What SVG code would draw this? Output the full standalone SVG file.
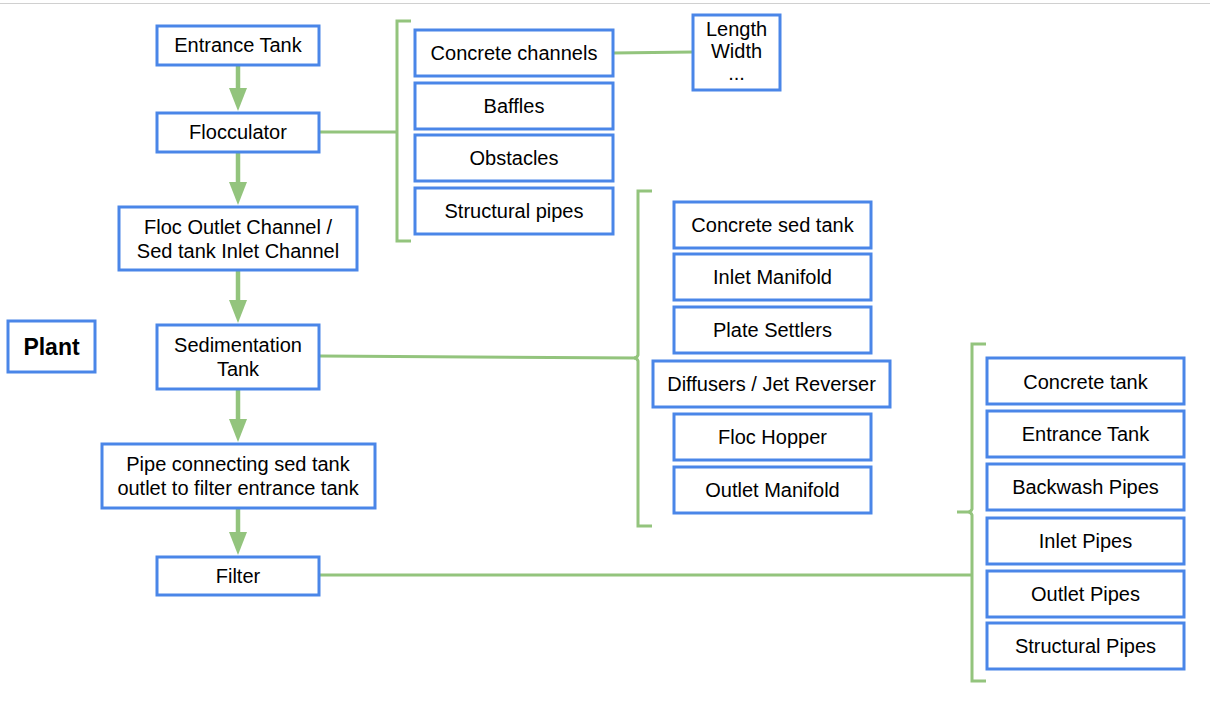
<svg xmlns="http://www.w3.org/2000/svg" width="1210" height="701" viewBox="0 0 1210 701">
<style>
.box{fill:#fff;stroke:#4a86e8;stroke-width:3}
.t{font-family:"Liberation Sans",Arial,sans-serif;font-size:20px;fill:#000;text-anchor:middle}
.tb{font-family:"Liberation Sans",Arial,sans-serif;font-size:23px;font-weight:bold;fill:#000;text-anchor:middle}
.ln{fill:none;stroke:#93c47d;stroke-width:3}
.ar{fill:none;stroke:#93c47d;stroke-width:4.5}
.ah{fill:#93c47d}
</style>
<rect width="1210" height="701" fill="#fff"/>
<line x1="0" y1="3.5" x2="1210" y2="3.5" stroke="#d0d0d0" stroke-width="1"/>
<g id="connectors">
<line class="ar" x1="238" y1="65" x2="238" y2="90"/><polygon class="ah" points="229,88 247,88 238,111"/>
<line class="ar" x1="238" y1="152" x2="238" y2="184"/><polygon class="ah" points="229,182 247,182 238,205"/>
<line class="ar" x1="238" y1="270" x2="238" y2="302"/><polygon class="ah" points="229,300 247,300 238,323"/>
<line class="ar" x1="238" y1="389" x2="238" y2="421"/><polygon class="ah" points="229,419 247,419 238,442"/>
<line class="ar" x1="238" y1="508" x2="238" y2="534"/><polygon class="ah" points="229,532 247,532 238,555"/>
<line class="ln" x1="320" y1="132" x2="397" y2="132"/>
<path class="ln" d="M411,21 H397 V241 H411"/>
<line class="ln" x1="613" y1="53" x2="693" y2="52"/>
<line class="ln" x1="320" y1="356" x2="635" y2="358"/>
<path class="ln" d="M652,191 H638 V355 Q637,358 634,358 Q637,358 638,361 V526 H652"/>
<line class="ln" x1="320" y1="575" x2="972" y2="575"/>
<path class="ln" d="M986,344 H972 V509 Q971,512 968,512 H957 M968,512 Q971,512 972,515 V681 H986"/>
</g>
<g id="plant"><rect class="box" x="8" y="321" width="87" height="51"/><text class="tb" x="51.5" y="355">Plant</text></g>
<g id="entrance-tank"><rect class="box" x="157" y="26" width="162" height="39"/><text class="t" x="238" y="52">Entrance Tank</text></g>
<g id="flocculator"><rect class="box" x="157" y="113" width="162" height="39"/><text class="t" x="238" y="139">Flocculator</text></g>
<g id="floc-outlet"><rect class="box" x="119" y="207" width="238" height="63"/><text class="t" x="238" y="234">Floc Outlet Channel /</text><text class="t" x="238" y="258">Sed tank Inlet Channel</text></g>
<g id="sed-tank"><rect class="box" x="157" y="325" width="162" height="64"/><text class="t" x="238" y="352">Sedimentation</text><text class="t" x="238" y="376">Tank</text></g>
<g id="pipe"><rect class="box" x="102" y="444" width="273" height="64"/><text class="t" x="238" y="471">Pipe connecting sed tank</text><text class="t" x="238" y="495">outlet to filter entrance tank</text></g>
<g id="filter"><rect class="box" x="157" y="557" width="162" height="38"/><text class="t" x="238" y="583">Filter</text></g>
<g id="concrete-channels"><rect class="box" x="415" y="30" width="198" height="46"/><text class="t" x="514" y="60">Concrete channels</text></g>
<g id="baffles"><rect class="box" x="415" y="83" width="198" height="46"/><text class="t" x="514" y="113">Baffles</text></g>
<g id="obstacles"><rect class="box" x="415" y="135" width="198" height="46"/><text class="t" x="514" y="165">Obstacles</text></g>
<g id="structural-pipes"><rect class="box" x="415" y="188" width="198" height="46"/><text class="t" x="514" y="218">Structural pipes</text></g>
<g id="length-width"><rect class="box" x="693" y="15" width="87" height="75"/><text class="t" x="736.5" y="36" font-size="16.5">Length</text><text class="t" x="736.5" y="58" font-size="16.5">Width</text><text class="t" x="736.5" y="80" font-size="16.5">...</text></g>
<g id="concrete-sed-tank"><rect class="box" x="674" y="202" width="197" height="46"/><text class="t" x="772.5" y="232">Concrete sed tank</text></g>
<g id="inlet-manifold"><rect class="box" x="674" y="254" width="197" height="46"/><text class="t" x="772.5" y="284">Inlet Manifold</text></g>
<g id="plate-settlers"><rect class="box" x="674" y="307" width="197" height="46"/><text class="t" x="772.5" y="337">Plate Settlers</text></g>
<g id="diffusers"><rect class="box" x="653" y="361" width="237" height="46"/><text class="t" x="771.5" y="391">Diffusers / Jet Reverser</text></g>
<g id="floc-hopper"><rect class="box" x="674" y="414" width="197" height="46"/><text class="t" x="772.5" y="444">Floc Hopper</text></g>
<g id="outlet-manifold"><rect class="box" x="674" y="467" width="197" height="46"/><text class="t" x="772.5" y="497">Outlet Manifold</text></g>
<g id="concrete-tank"><rect class="box" x="987" y="358" width="197" height="46"/><text class="t" x="1085.5" y="389">Concrete tank</text></g>
<g id="filter-entrance-tank"><rect class="box" x="987" y="411" width="197" height="46"/><text class="t" x="1085.5" y="441">Entrance Tank</text></g>
<g id="backwash-pipes"><rect class="box" x="987" y="464" width="197" height="46"/><text class="t" x="1085.5" y="494">Backwash Pipes</text></g>
<g id="inlet-pipes"><rect class="box" x="987" y="518" width="197" height="46"/><text class="t" x="1085.5" y="548">Inlet Pipes</text></g>
<g id="outlet-pipes"><rect class="box" x="987" y="571" width="197" height="46"/><text class="t" x="1085.5" y="601">Outlet Pipes</text></g>
<g id="structural-pipes-2"><rect class="box" x="987" y="623" width="197" height="46"/><text class="t" x="1085.5" y="653">Structural Pipes</text></g>
</svg>
